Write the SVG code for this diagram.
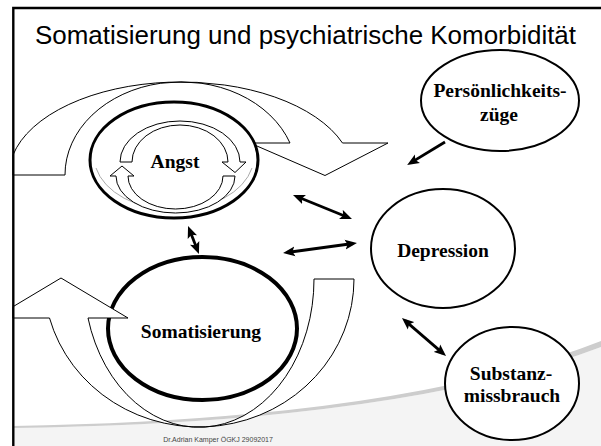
<svg xmlns="http://www.w3.org/2000/svg" width="601" height="446" viewBox="0 0 601 446">
<style>
.lbl{font-family:"Liberation Serif","Times New Roman",serif;font-weight:bold;font-size:19.5px;fill:#000;text-anchor:middle}
.blk{fill:#fff;stroke:#000;stroke-width:1}
.node{fill:#fff;stroke:#000;stroke-width:2}
.con{stroke:#000;stroke-width:2.8;fill:none}
</style>
<defs>
<marker id="ah" viewBox="0 0 12 10" refX="8" refY="5" markerWidth="12" markerHeight="10.5" markerUnits="userSpaceOnUse" orient="auto-start-reverse">
<path d="M0,0 L12,5 L0,10 L2.5,5 Z" fill="#000"/>
</marker>
</defs>
<rect x="0" y="0" width="601" height="446" fill="#fff"/>
<!-- background swoosh -->
<path d="M13,428 Q400,423 601,347 L601,446 L13,446 Z" fill="#f4f4f4"/>
<path d="M13,426 Q400,420 601,341 L601,347 Q400,423 13,428 Z" fill="#cdcdcd"/>

<g id="somatisierung">
<ellipse cx="202.5" cy="328.5" rx="94.5" ry="71.5" fill="#fff" stroke="#000" stroke-width="4"/>
</g>
<g id="loop-somatisierung">
<path class="blk" d="M314,279 A115,148 0 0 1 88,318 L128,318 L61,278 L13,306.7 L13,318 L49.5,318 A155,148 0 0 0 354,279 Z"/>
</g>
<g id="loop-angst">
<path class="blk" d="M13,175 L13,155 A172,93 0 0 1 342.5,143 L388,143 L325,175.5 L250,143 L290,143 A116,93 0 0 0 65,175 Z"/>
</g>
<g id="angst">
<ellipse cx="174" cy="160" rx="84" ry="58" fill="#fff" stroke="#000" stroke-width="3"/>
<path d="M96,168 A80,54 0 0 0 252,168" fill="none" stroke="#aaa" stroke-width="1"/>
<path class="blk" d="M120,162 A60,41 0 0 1 240,162 L246,162 L235,172.5 L222,162 L228,162 A48,37 0 0 0 132,162 Z"/>
<path class="blk" d="M235,176 A59.5,37 0 0 1 116,176 L110,176 L122,166 L134,176 L128,176 A47.5,33 0 0 0 223,176 Z"/>
<text class="lbl" x="175" y="168">Angst</text>
</g>
<g id="somatisierung-label">
<text class="lbl" x="201" y="338">Somatisierung</text>
</g>
<g id="depression">
<ellipse class="node" cx="443" cy="248.5" rx="72" ry="59.5"/>
<text class="lbl" x="443" y="257">Depression</text>
</g>
<g id="persoenlichkeit">
<ellipse class="node" cx="500" cy="100.5" rx="79" ry="50.5"/>
<text class="lbl" x="500" y="97">Persönlichkeits-</text>
<text class="lbl" x="499" y="121">züge</text>
</g>
<g id="substanz">
<ellipse class="node" cx="512" cy="383.5" rx="67" ry="56.5"/>
<text class="lbl" x="511" y="380">Substanz-</text>
<text class="lbl" x="512" y="402">missbrauch</text>
</g>

<g id="connectors">
<line class="con" x1="189.5" y1="229.7" x2="197.5" y2="250.3" marker-start="url(#ah)" marker-end="url(#ah)"/>
<line class="con" x1="296.7" y1="196.5" x2="348.3" y2="217.5" marker-start="url(#ah)" marker-end="url(#ah)"/>
<line class="con" x1="287" y1="252.5" x2="353" y2="243.5" marker-start="url(#ah)" marker-end="url(#ah)"/>
<line class="con" x1="405" y1="320.6" x2="443" y2="353.4" marker-start="url(#ah)" marker-end="url(#ah)"/>
<line class="con" x1="445" y1="142" x2="410.6" y2="162.9" marker-end="url(#ah)"/>
</g>

<!-- slide frame -->
<path d="M13.3,446 L13.3,8 L601,8" fill="none" stroke="#000" stroke-width="2.4"/>
<text x="35" y="43.5" font-family="'Liberation Sans',Arial,sans-serif" font-size="25" textLength="541" lengthAdjust="spacingAndGlyphs" fill="#000">Somatisierung und psychiatrische Komorbidität</text>
<text x="218" y="442" font-family="'Liberation Sans',Arial,sans-serif" font-size="7" text-anchor="middle" fill="#444">Dr.Adrian Kamper ÖGKJ 29092017</text>
</svg>
